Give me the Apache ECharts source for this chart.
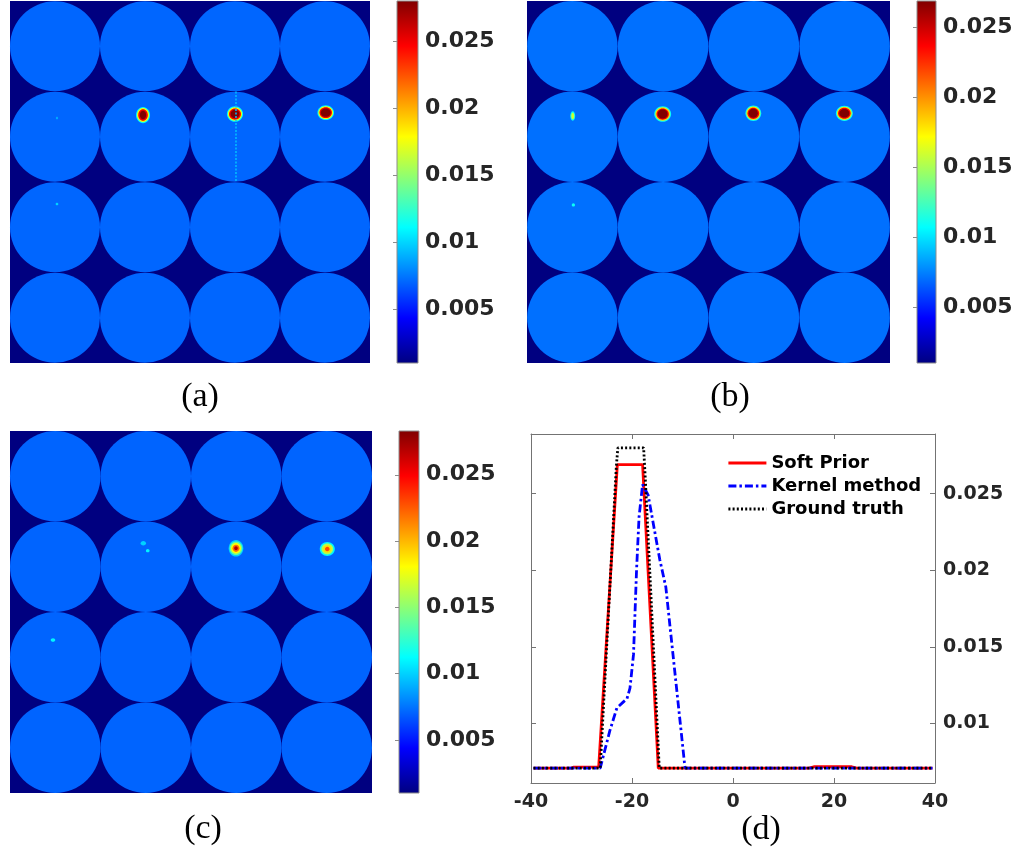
<!DOCTYPE html>
<html>
<head>
<meta charset="utf-8">
<script src="https://cdn.jsdelivr.net/npm/echarts@6/dist/echarts.min.js"></script>
<style>
  html, body { margin: 0; padding: 0; background: #fff; }
  #chart { width: 1018px; height: 849px; }
</style>
</head>
<body>
<div id="chart"></div>
<script>
// phantom layout: 4 x 4 discs, centres in cell units
const discCols = [0.5, 1.5, 2.5, 3.5]
const discRows = [0.5, 1.5, 2.5, 3.5]
const discValue = 0.00707

// hotspots: [x, y, value, rx, ry] (cell units), outer ring first
const hotA = [
    [1.478, 1.26, 0.011, 0.078, 0.09], [1.478, 1.26, 0.018, 0.066, 0.077], [1.478, 1.26, 0.025, 0.053, 0.064], [1.478, 1.26, 0.028, 0.035, 0.047],
    [2.5, 1.249, 0.011, 0.09, 0.086], [2.5, 1.249, 0.018, 0.078, 0.074], [2.5, 1.249, 0.025, 0.066, 0.062], [2.5, 1.249, 0.028, 0.05, 0.047],
    [3.508, 1.234, 0.011, 0.092, 0.081], [3.508, 1.234, 0.018, 0.081, 0.07], [3.508, 1.234, 0.025, 0.069, 0.059], [3.508, 1.234, 0.028, 0.055, 0.045],
    [0.522, 1.293, 0.009, 0.012, 0.015],
    [0.522, 2.243, 0.010, 0.015, 0.015],
]
// streak artefact in panel (a): [x, y0, value, y1]
const streakA = [[2.511, 1.0, 0.0095, 2.0]]

const hotB = [
    [0.504, 1.271, 0.011, 0.027, 0.052], [0.504, 1.271, 0.016, 0.016, 0.037],
    [1.495, 1.249, 0.011, 0.093, 0.086], [1.495, 1.249, 0.018, 0.081, 0.074], [1.495, 1.249, 0.024, 0.068, 0.062], [1.495, 1.249, 0.0269, 0.054, 0.05],
    [2.494, 1.241, 0.011, 0.087, 0.086], [2.494, 1.241, 0.018, 0.076, 0.074], [2.494, 1.241, 0.024, 0.064, 0.062], [2.494, 1.241, 0.0269, 0.05, 0.05],
    [3.497, 1.241, 0.011, 0.093, 0.084], [3.497, 1.241, 0.018, 0.081, 0.072], [3.497, 1.241, 0.024, 0.069, 0.061], [3.497, 1.241, 0.0269, 0.055, 0.047],
    [0.511, 2.254, 0.011, 0.018, 0.018],
]

const hotC = [
    [1.473, 1.241, 0.010, 0.03, 0.025], [1.522, 1.322, 0.011, 0.02, 0.018],
    [2.497, 1.296, 0.010, 0.081, 0.092], [2.497, 1.296, 0.014, 0.07, 0.075], [2.497, 1.296, 0.018, 0.055, 0.058], [2.497, 1.296, 0.022, 0.038, 0.04], [2.497, 1.296, 0.027, 0.02, 0.022],
    [3.506, 1.304, 0.011, 0.083, 0.077], [3.506, 1.304, 0.016, 0.065, 0.06], [3.506, 1.304, 0.019, 0.045, 0.042], [3.506, 1.304, 0.023, 0.025, 0.025],
    [0.475, 2.309, 0.011, 0.025, 0.02],
]

// colour limits of each image
const climA = [0.001, 0.028]
const climB = [0.001, 0.0269]
const climC = [0.001, 0.0283]
const cbarTicks = [0.005, 0.01, 0.015, 0.02, 0.025]

// profile plot (d)
const profileTicks = [0.01, 0.015, 0.02, 0.025]
const softPrior = [
    [-39.5, 0.00707], [-32, 0.00707], [-31.5, 0.00714], [-26.6, 0.00714], [-26.3, 0.00707],
    [-22.9, 0.0269], [-17.9, 0.0269], [-14.8, 0.00707],
    [15, 0.00707], [16, 0.00716], [23.5, 0.00716], [24.5, 0.00707], [39.5, 0.00707],
]
const kernelMethod = [
    [-39.5, 0.00707], [-26.3, 0.00707], [-24.4, 0.0095], [-23.0, 0.011], [-21.7, 0.0114], [-21.0, 0.0116],
    [-20.4, 0.0123], [-19.7, 0.0145], [-19.1, 0.02], [-18.6, 0.0235], [-17.9, 0.0256], [-16.8, 0.0249],
    [-14.5, 0.0207], [-13.3, 0.0189], [-9.5, 0.00707], [39.5, 0.00707],
]
const groundTruth = [
    [-39.5, 0.00707], [-26.3, 0.00707], [-23.1, 0.0268], [-22.8, 0.028], [-17.7, 0.028],
    [-17.4, 0.0262], [-14.6, 0.00707], [39.5, 0.00707],
]

const jet = ['#000080', '#0000ff', '#0080ff', '#00ffff', '#80ff80', '#ffff00', '#ff8000', '#ff0000', '#800000']

const chart = echarts.init(document.getElementById('chart'), null, { renderer: 'canvas' })

const discs = []
discRows.forEach(r => discCols.forEach(c => discs.push([c, r, discValue])))

function renderDisc(params, api) {
    const p = api.coord([api.value(0), api.value(1)])
    const s = api.size([1, 1])
    return { type: 'circle', shape: { cx: p[0], cy: p[1], r: Math.min(s[0], s[1]) / 2 }, style: { fill: api.visual('color') } }
}
function renderHot(params, api) {
    const p = api.coord([api.value(0), api.value(1)])
    const s = api.size([api.value(3), api.value(4)])
    return { type: 'ellipse', shape: { cx: p[0], cy: p[1], rx: s[0], ry: s[1] }, style: { fill: api.visual('color') } }
}
function renderStreak(params, api) {
    const p0 = api.coord([api.value(0), api.value(1)])
    const p1 = api.coord([api.value(0), api.value(3)])
    return { type: 'line', shape: { x1: p0[0], y1: p0[1], x2: p1[0], y2: p1[1] }, style: { stroke: api.visual('color'), lineWidth: 1.5, lineDash: [2, 1.5] } }
}
function renderBar(params, api) {
    const p0 = api.coord([0, api.value(1)])
    const p1 = api.coord([1, api.value(0)])
    const stops = jet.map((c, i) => ({ offset: i / (jet.length - 1), color: c }))
    return {
        type: 'rect',
        shape: { x: p0[0], y: p0[1], width: p1[0] - p0[0], height: p1[1] - p0[1] },
        style: { fill: new echarts.graphic.LinearGradient(0, 1, 0, 0, stops), stroke: '#8c8c8c', lineWidth: 1 },
    }
}

const labelFont = { fontFamily: 'DejaVu Sans', fontWeight: 'bold', color: '#262626' }

function imgAxes(i) {
    return {
        x: { gridIndex: i, type: 'value', min: 0, max: 4, show: false },
        y: { gridIndex: i, type: 'value', min: 0, max: 4, inverse: true, show: false },
    }
}
function cbarAxes(i, clim) {
    return {
        x: { gridIndex: i, type: 'value', min: 0, max: 1, show: false },
        y: {
            gridIndex: i, type: 'value', position: 'right', min: clim[0], max: clim[1],
            axisLine: { show: false },
            splitLine: { show: false },
            axisTick: { show: true, inside: true, length: 4, lineStyle: { color: '#8c8c8c' }, customValues: cbarTicks },
            axisLabel: { ...labelFont, fontSize: 22, margin: 7, customValues: cbarTicks, formatter: v => String(+v.toFixed(4)) },
        },
    }
}

const ax = [imgAxes(0), cbarAxes(1, climA), imgAxes(2), cbarAxes(3, climB), imgAxes(4), cbarAxes(5, climC)]
const xAxes = ax.map(a => a.x)
const yAxes = ax.map(a => a.y)

const boxColor = '#737373'
xAxes.push(
    {
        gridIndex: 6, type: 'value', min: -40, max: 40, interval: 20,
        axisLine: { show: true, onZero: false, lineStyle: { color: boxColor } },
        axisTick: { show: true, inside: true, length: 5, lineStyle: { color: boxColor } },
        axisLabel: { ...labelFont, fontSize: 19, margin: 10 },
        splitLine: { show: false },
    },
    {
        gridIndex: 6, type: 'value', position: 'top', min: -40, max: 40, interval: 20,
        axisLine: { show: true, onZero: false, lineStyle: { color: boxColor } },
        axisTick: { show: true, inside: true, length: 5, lineStyle: { color: boxColor } },
        axisLabel: { show: false },
        splitLine: { show: false },
    }
)
yAxes.push(
    {
        gridIndex: 6, type: 'value', position: 'right', min: 0.0061, max: 0.0289,
        axisLine: { show: true, onZero: false, lineStyle: { color: boxColor } },
        axisTick: { show: true, inside: true, length: 5, lineStyle: { color: boxColor }, customValues: profileTicks },
        axisLabel: { ...labelFont, fontSize: 19, margin: 8, customValues: profileTicks, formatter: v => String(+v.toFixed(4)) },
        splitLine: { show: false },
    },
    {
        gridIndex: 6, type: 'value', position: 'left', min: 0.0061, max: 0.0289,
        axisLine: { show: true, onZero: false, lineStyle: { color: boxColor } },
        axisTick: { show: true, inside: true, length: 5, lineStyle: { color: boxColor }, customValues: profileTicks },
        axisLabel: { show: false },
        splitLine: { show: false },
    }
)

const gridBase = { outerBoundsMode: 'none', containLabel: false }
const imgGrid = { ...gridBase, show: true, backgroundColor: '#000080', borderWidth: 0 }

function visual(clim, series) {
    return { type: 'continuous', show: false, min: clim[0], max: clim[1], dimension: 2, seriesIndex: series, inRange: { color: jet } }
}

function caption(text, x, y) {
    return { type: 'text', x: x, y: y, style: { text: text, fontFamily: 'Liberation Serif', fontSize: 34, fill: '#000', align: 'center', verticalAlign: 'middle' } }
}

chart.setOption({
    backgroundColor: '#fff',
    animation: false,
    grid: [
        { ...imgGrid, left: 10, top: 1, width: 360, height: 362 },
        { ...gridBase, left: 397, top: 1, width: 21, height: 362 },
        { ...imgGrid, left: 527, top: 1, width: 363, height: 362 },
        { ...gridBase, left: 917, top: 1, width: 19, height: 362 },
        { ...imgGrid, left: 10, top: 431, width: 362, height: 362 },
        { ...gridBase, left: 399, top: 431, width: 20, height: 362 },
        { ...gridBase, left: 531, top: 434, width: 404, height: 349 },
    ],
    xAxis: xAxes,
    yAxis: yAxes,
    visualMap: [visual(climA, [0, 1, 2]), visual(climB, [4, 5]), visual(climC, [7, 8])],
    legend: {
        orient: 'vertical',
        left: 727,
        top: 454,
        padding: 0,
        itemWidth: 38,
        itemHeight: 18,
        itemGap: 5,
        itemStyle: { opacity: 0 },
        lineStyle: { opacity: 1, width: 2.8 },
        data: ['Soft Prior', 'Kernel method', 'Ground truth'],
        textStyle: { fontFamily: 'DejaVu Sans', fontWeight: 'bold', fontSize: 18, color: '#000' },
    },
    graphic: [caption('(a)', 200, 397), caption('(b)', 730, 397), caption('(c)', 203, 829), caption('(d)', 761, 830)],
    series: [
        { type: 'custom', xAxisIndex: 0, yAxisIndex: 0, renderItem: renderDisc, data: discs, silent: true },
        { type: 'custom', xAxisIndex: 0, yAxisIndex: 0, renderItem: renderHot, data: hotA, silent: true },
        { type: 'custom', xAxisIndex: 0, yAxisIndex: 0, renderItem: renderStreak, data: streakA, silent: true },
        { type: 'custom', xAxisIndex: 1, yAxisIndex: 1, renderItem: renderBar, data: [climA], silent: true },
        { type: 'custom', xAxisIndex: 2, yAxisIndex: 2, renderItem: renderDisc, data: discs, silent: true },
        { type: 'custom', xAxisIndex: 2, yAxisIndex: 2, renderItem: renderHot, data: hotB, silent: true },
        { type: 'custom', xAxisIndex: 3, yAxisIndex: 3, renderItem: renderBar, data: [climB], silent: true },
        { type: 'custom', xAxisIndex: 4, yAxisIndex: 4, renderItem: renderDisc, data: discs, silent: true },
        { type: 'custom', xAxisIndex: 4, yAxisIndex: 4, renderItem: renderHot, data: hotC, silent: true },
        { type: 'custom', xAxisIndex: 5, yAxisIndex: 5, renderItem: renderBar, data: [climC], silent: true },
        {
            name: 'Soft Prior', type: 'line', xAxisIndex: 6, yAxisIndex: 6, data: softPrior,
            symbol: 'none', color: '#ff0000', lineStyle: { color: '#ff0000', width: 2.8 }, z: 3,
        },
        {
            name: 'Kernel method', type: 'line', xAxisIndex: 6, yAxisIndex: 6, data: kernelMethod,
            symbol: 'none', color: '#0000ff', lineStyle: { color: '#0000ff', width: 2.8, type: [8, 3, 2.5, 3] }, z: 4,
        },
        {
            name: 'Ground truth', type: 'line', xAxisIndex: 6, yAxisIndex: 6, data: groundTruth,
            symbol: 'none', color: '#000000', lineStyle: { color: '#000000', width: 2.8, type: [2, 2.2] }, z: 5,
        },
    ],
})
</script>
</body>
</html>
